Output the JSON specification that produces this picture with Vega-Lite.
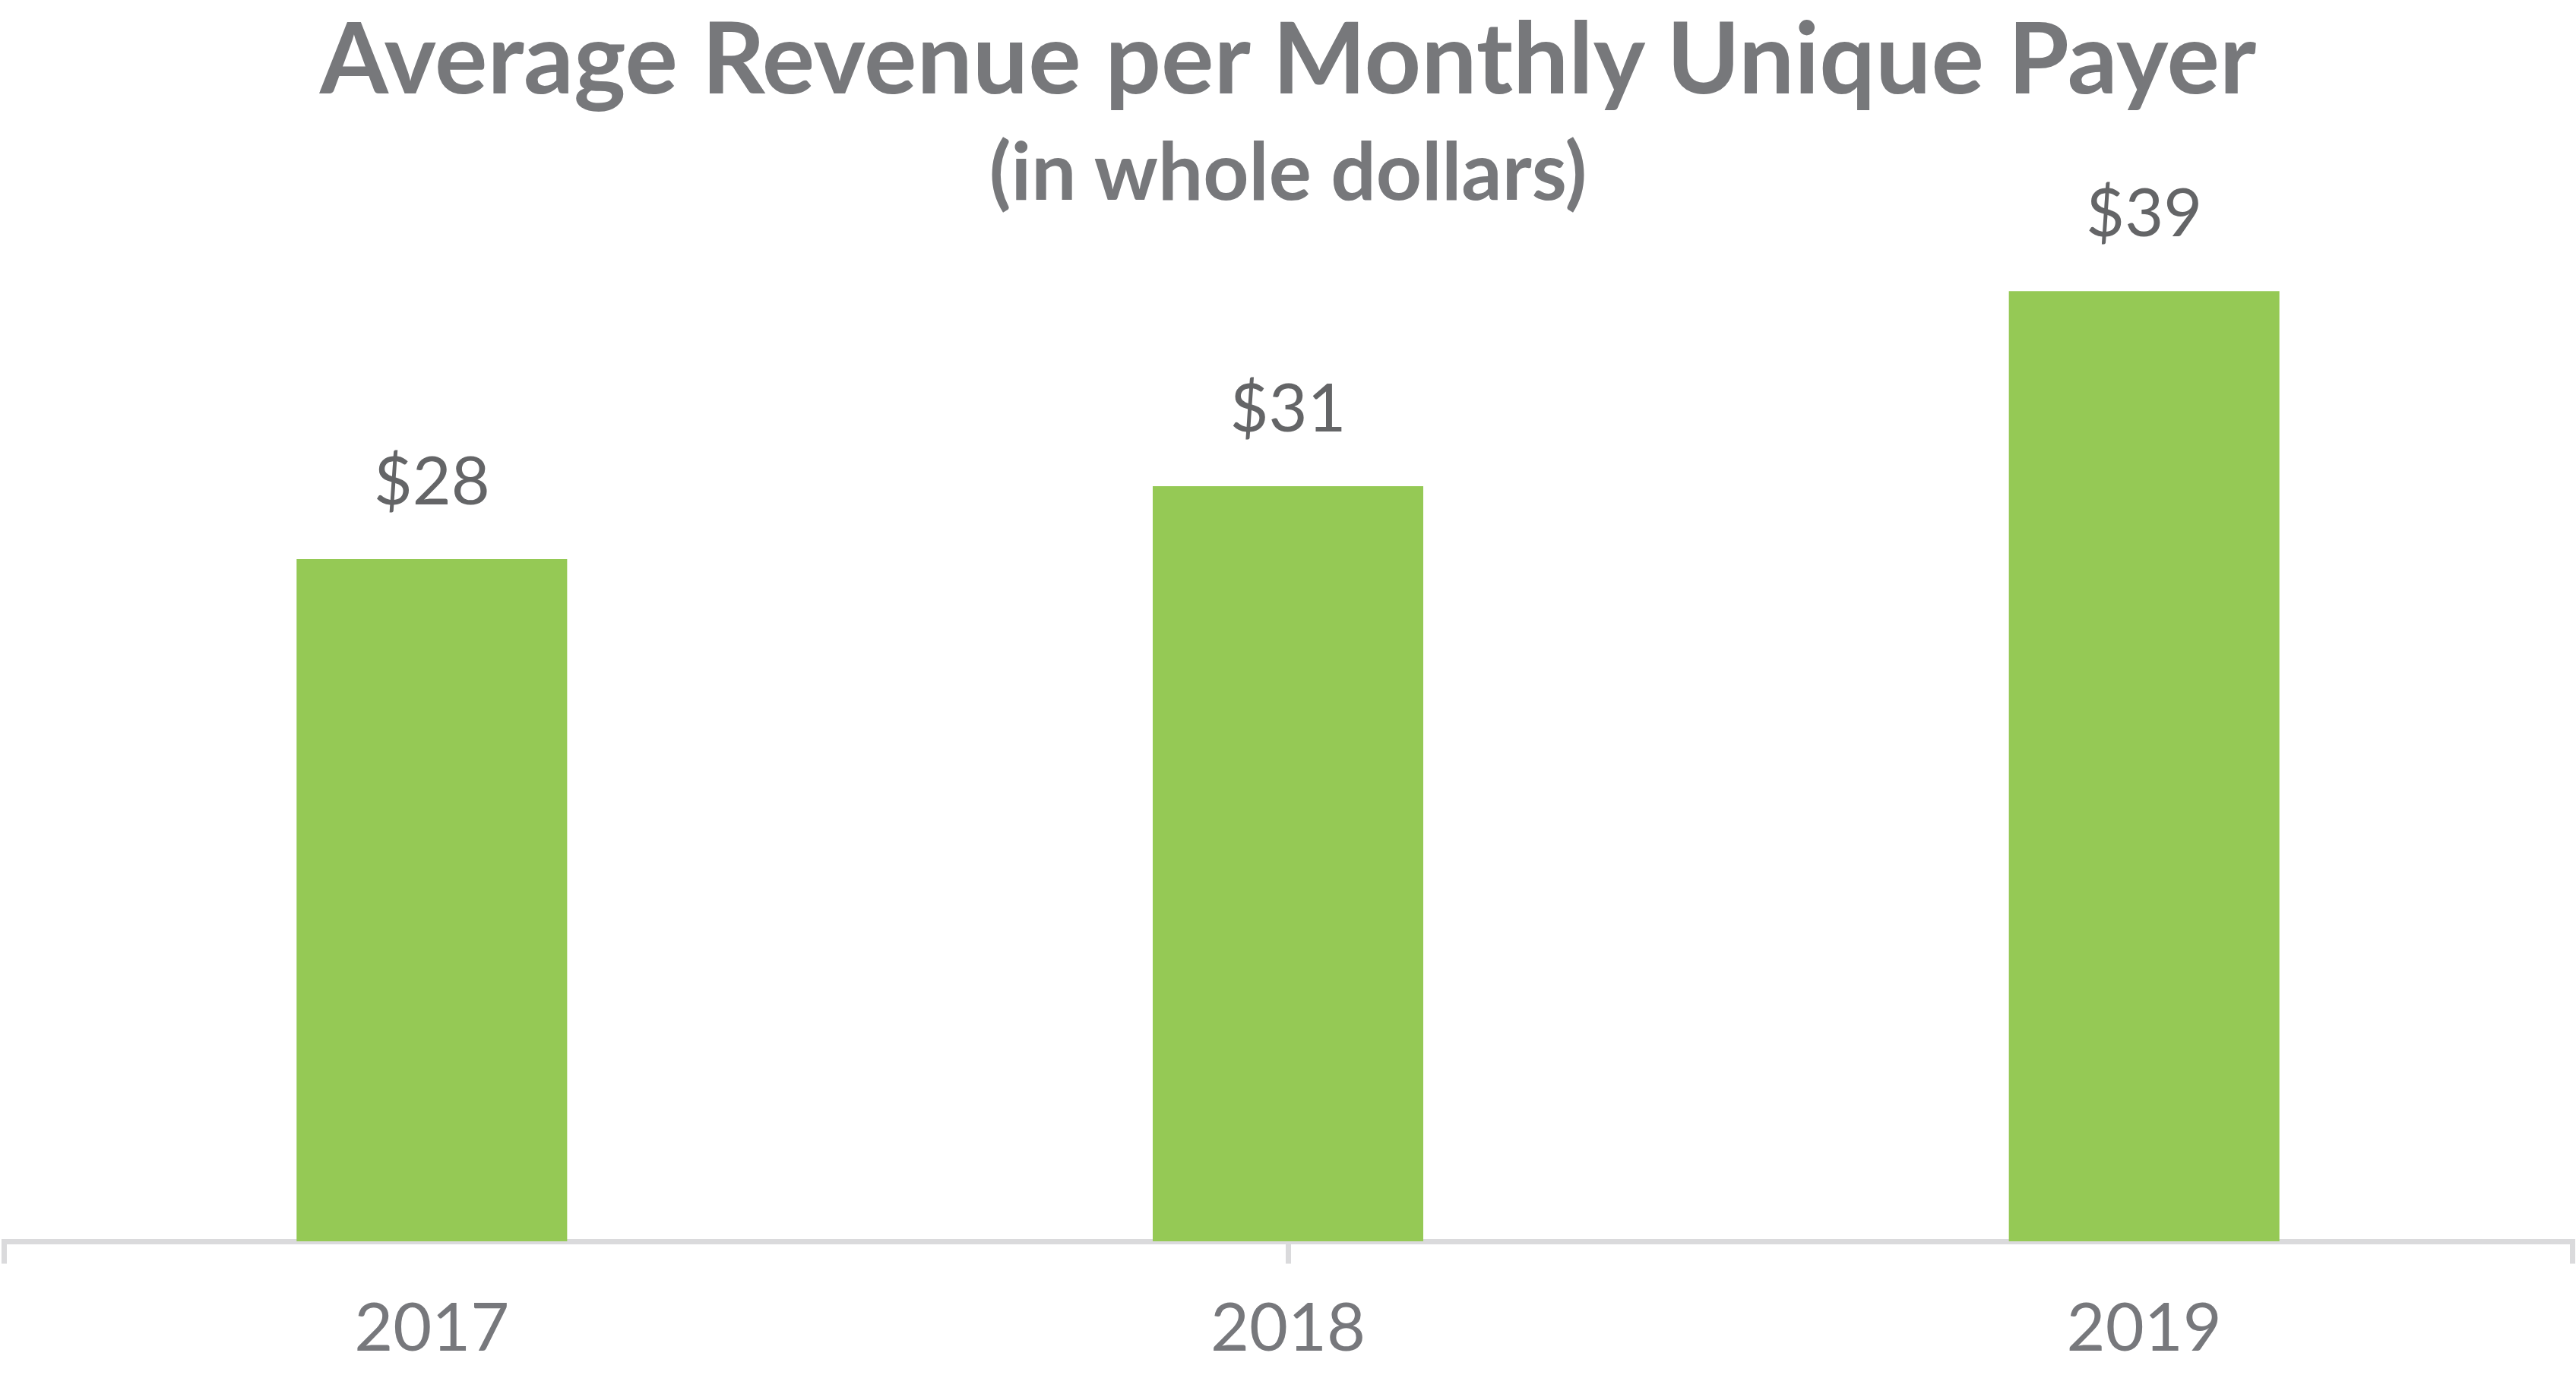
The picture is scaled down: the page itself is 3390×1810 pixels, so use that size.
{
  "$schema": "https://vega.github.io/schema/vega-lite/v6.json",
  "width": 3380,
  "height": 1411,
  "autosize": {"type": "none"},
  "padding": {"left": 5, "right": 5, "top": 223, "bottom": 176},
  "background": "white",
  "title": {
    "text": "Average Revenue per Monthly Unique Payer",
    "subtitle": "(in whole dollars)",
    "anchor": "middle",
    "frame": "group",
    "orient": "top",
    "offset": -62,
    "font": "Lato",
    "fontSize": 130,
    "fontWeight": "bold",
    "color": "#77787B",
    "subtitleFont": "Lato",
    "subtitleFontSize": 105,
    "subtitleFontWeight": "bold",
    "subtitleColor": "#77787B",
    "subtitlePadding": 30
  },
  "data": {
    "values": [
      {"year": "2017", "value": 28},
      {"year": "2018", "value": 31},
      {"year": "2019", "value": 39}
    ]
  },
  "layer": [
    {
      "encoding": {
        "x": {
          "field": "year",
          "type": "nominal",
          "sort": null,
          "scale": {"paddingInner": 0.684, "paddingOuter": 0.342},
          "axis": {
            "orient": "bottom",
            "title": null,
            "ticks": false,
            "tickSize": 0,
            "labelPadding": 73,
            "labelLimit": 0,
            "labelFont": "Lato",
            "labelFontSize": 88,
            "labelColor": "#77787C",
            "labelAngle": 0,
            "domain": true,
            "domainColor": "#DADADC",
            "domainWidth": 7,
            "domainCap": "square",
            "grid": false
          }
        },
        "y": {
          "field": "value",
          "type": "quantitative",
          "scale": {"domain": [0, 44], "nice": false},
          "axis": null
        }
      },
      "layer": [
        {"mark": {"type": "bar", "color": "#95C955"}},
        {
          "mark": {
            "type": "text",
            "baseline": "alphabetic",
            "align": "center",
            "dy": -72,
            "font": "Lato",
            "fontSize": 88,
            "color": "#646567"
          },
          "encoding": {"text": {"field": "value", "type": "quantitative", "format": "$.0f"}}
        }
      ]
    },
    {
      "mark": {"type": "point", "opacity": 0},
      "encoding": {
        "x": {
          "field": "year",
          "type": "nominal",
          "sort": null,
          "scale": {"type": "point", "padding": 0},
          "axis": {
            "orient": "bottom",
            "title": null,
            "labels": false,
            "domain": false,
            "ticks": true,
            "tickSize": 29,
            "tickWidth": 7,
            "tickColor": "#DADADC",
            "grid": false
          }
        }
      }
    }
  ],
  "resolve": {"scale": {"x": "independent"}, "axis": {"x": "independent"}},
  "config": {"view": {"stroke": null}}
}
